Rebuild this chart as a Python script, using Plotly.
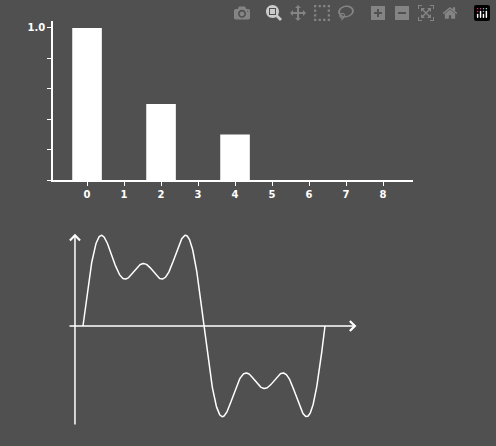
import numpy as np
import plotly.graph_objects as go

harmonics = [0, 1, 2, 3, 4, 5, 6, 7, 8]
amplitudes = [1.0, 0, 0.5, 0, 0.3, 0, 0, 0, 0]

# waveform built from the spectrum above (harmonic k -> sin((k+1)x))
t = np.linspace(0, 2 * np.pi, 600)
wave = sum(a * np.sin((k + 1) * t) for k, a in zip(harmonics, amplitudes))

bg = "#505050"
bold = dict(family="DejaVu Sans", size=10, color="white", weight="bold")

fig = go.Figure()
fig.add_trace(go.Bar(x=harmonics, y=amplitudes, width=0.8,
                     marker=dict(color="white", line=dict(width=0)),
                     xaxis="x", yaxis="y"))
fig.add_trace(go.Scatter(x=t, y=wave, mode="lines",
                         line=dict(color="white", width=1.5),
                         xaxis="x2", yaxis="y2", cliponaxis=False))

fig.update_layout(
    width=496, height=446, margin=dict(l=0, r=0, t=0, b=0),
    paper_bgcolor=bg, plot_bgcolor=bg, showlegend=False,
    font=dict(family="DejaVu Sans", color="white", size=10),
    xaxis=dict(domain=[53 / 496, 413 / 496], range=[-0.92, 8.81],
               tickvals=harmonics, ticktext=[str(h) for h in harmonics],
               ticks="outside", ticklen=4, tickcolor="white", tickfont=bold,
               showgrid=False, zeroline=False, showline=True, linecolor="white",
               linewidth=1.5, anchor="y"),
    yaxis=dict(domain=[(446 - 180) / 446, (446 - 21) / 446], range=[0, 1.046],
               tickvals=[0, 0.2, 0.4, 0.6, 0.8, 1.0],
               ticktext=["", "", "", "", "", "1.0"], tickfont=bold,
               ticks="outside", ticklen=4, tickcolor="white",
               showgrid=False, zeroline=False, showline=True, linecolor="white",
               linewidth=1.5, anchor="x"),
    xaxis2=dict(domain=[68 / 496, 357 / 496], range=[-0.389, 7.114],
                visible=False, anchor="y2"),
    yaxis2=dict(domain=[(446 - 426) / 446, (446 - 233) / 446], range=[-1.28, 1.19],
                visible=False, anchor="x2"),
)

# arrowed axes for the waveform
fig.add_annotation(x=7.10, y=0, ax=-0.389, ay=0, xref="x2", yref="y2",
                   axref="x2", ayref="y2", showarrow=True, arrowhead=4,
                   arrowcolor="white", arrowwidth=1.5, arrowsize=1.3, text="")
fig.add_annotation(x=-0.208, y=1.18, ax=-0.208, ay=-1.28, xref="x2", yref="y2",
                   axref="x2", ayref="y2", showarrow=True, arrowhead=4,
                   arrowcolor="white", arrowwidth=1.5, arrowsize=1.3, text="")

fig.write_html("out.html",
               post_script="document.body.style.margin='0';"
                           "document.body.style.background='#505050';")
